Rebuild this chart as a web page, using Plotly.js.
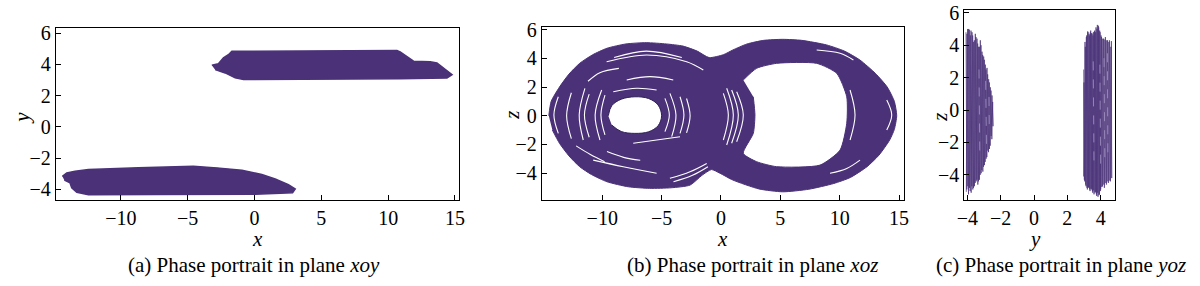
<!DOCTYPE html>
<html>
<head>
<meta charset="utf-8">
<script src="https://cdn.plot.ly/plotly-3.0.1.min.js"></script>
<style>html,body{margin:0;padding:0;background:#fff}#chart{width:1200px;height:286px}</style>
</head>
<body>
<div id="chart"></div>
<script>
// ---------- (a) plane xoy : outlines of the two dense bands ----------
const aUpperX = [-3.19,-2.7,-2.32,-1.95,-1.69,3.42,10.66,10.9,11.53,11.9,13.15,13.65,14.78,14.4,10.9,3.42,-0.82,-1.44,-2.19,-2.94];
const aUpperY = [3.95,4.05,4.42,4.63,4.85,4.85,4.89,4.81,4.42,4.21,4.17,4.1,3.35,3.14,3.08,3.03,3.03,3.14,3.46,3.67];
const aLowerX = [-14.37,-14.04,-13.42,-12.42,-8.68,-4.57,-2.81,-0.94,0.55,1.55,2.54,3.05,2.85,0.05,-7.43,-12.42,-13.29,-13.67,-13.8,-14.22];
const aLowerY = [-3.17,-2.95,-2.85,-2.74,-2.63,-2.52,-2.63,-2.78,-3.06,-3.34,-3.7,-3.98,-4.23,-4.32,-4.34,-4.36,-4.19,-3.91,-3.59,-3.42];

// ---------- (b) plane xoz : outer outline, holes, white gaps ----------
const bOuterX = [-14.5,-14.3,-13.6,-12.8,-11.9,-10.8,-9.6,-8.0,-6.3,-4.6,-3.2,-2.0,-1.0,0.2,1.0,2.2,3.6,5.2,6.8,8.9,10.4,11.7,13.0,14.0,14.6,14.8,14.6,14.2,13.3,12.3,10.9,9.5,7.4,5.2,3.2,1.0,-0.1,-0.8,-1.6,-2.6,-4.2,-6.0,-7.8,-9.6,-10.9,-11.9,-12.8,-13.6,-14.2];
const bOuterZ = [0.0,1.0,2.0,2.9,3.65,4.25,4.7,5.0,5.09,5.0,4.85,4.5,4.05,4.25,4.58,5.0,5.25,5.32,5.25,4.93,4.5,3.88,2.95,2.0,1.0,0.0,-0.95,-1.7,-2.75,-3.55,-4.3,-4.72,-5.12,-5.3,-5.1,-4.48,-4.0,-3.75,-4.15,-4.83,-5.02,-5.06,-4.95,-4.6,-4.1,-3.55,-2.8,-1.92,-1.0];
const bHoleLX = [-9.49,-9.2,-8.4,-7.25,-6.1,-5.3,-5.0,-5.3,-6.1,-7.25,-8.4,-9.2];
const bHoleLZ = [0.0,0.7,1.15,1.32,1.2,0.75,0.0,-0.7,-1.12,-1.23,-1.1,-0.65];
const bHoleRX = [1.88,3.0,4.69,8.06,9.75,10.59,10.59,10.03,8.34,4.69,3.0,1.88,2.72,2.86,2.72];
const bHoleRZ = [2.49,3.3,3.65,3.65,2.95,1.32,-0.53,-2.39,-3.44,-3.55,-3.2,-2.62,-1.23,0.05,1.32];
// white gaps between strands (null separates strands)
const bGapX = [-9.77,-10.11,-9.77,null,-10.05,-10.6,-10.19,null,-11.1,-11.5,-11.1,null,-11.46,-11.94,-11.6,null,-12.6,-13.0,-12.6,null,-13.7,-14.07,-13.7,null,
  -4.72,-4.35,-4.72,null,-4.3,-3.79,-4.15,null,-3.45,-3.12,-3.45,null,-2.9,-2.6,-2.9,null,
  -9.63,-6.26,-2.89,-1.49,null,-9.0,-6.3,-3.3,null,-7.94,-5.98,-4.02,null,-9.07,-7.1,-5.42,null,-11.2,-10.2,-8.6,null,
  -10.76,-8.23,-5.42,null,-4.3,-2.61,-1.2,null,-4.0,-2.4,-1.1,null,-7.39,-5.42,-3.45,null,-9.6,-8.2,-6.8,null,-12.2,-11.0,-9.8,null,
  0.48,1.04,0.48,null,0.9,1.46,0.9,null,1.32,1.88,1.32,null,0.2,0.62,0.2,null,
  10.87,11.29,10.87,null,13.96,14.38,13.96,null,8.06,10.03,11.15,null,9.18,10.59,11.71];
const bGapZ = [1.44,0.05,-1.34,null,1.79,0.05,-1.69,null,1.5,0.05,-1.5,null,1.91,0.05,-1.69,null,1.6,0.0,-1.6,null,1.32,0.05,-1.23,null,
  1.21,0.05,-1.11,null,1.56,0.05,-1.46,null,1.32,0.05,-1.23,null,1.2,0.0,-1.2,null,
  3.76,4.23,3.76,3.18,null,4.05,4.5,4.05,null,2.49,2.72,2.49,null,1.67,1.91,1.79,null,2.4,3.0,3.3,null,
  -3.09,-3.55,-4.01,null,-4.36,-3.9,-3.32,null,-4.6,-4.15,-3.55,null,-1.92,-1.69,-1.46,null,-2.5,-2.9,-3.1,null,-2.1,-2.7,-3.2,null,
  1.91,0.05,-2.04,null,1.79,0.05,-1.92,null,1.67,0.05,-1.81,null,1.56,0.05,-1.69,null,
  1.79,0.05,-1.69,null,1.09,0.05,-1.0,null,4.58,4.35,3.88,null,-4.01,-3.67,-3.09];

// ---------- (c) plane yoz : strands ----------
const cLeftY = [-4.08,-4.03,-3.98,-3.93,-3.88,-3.83,-3.78,-3.73,-3.68,-3.63,-3.58,-3.53,-3.48,-3.43,-3.38,-3.33,-3.28,-3.23,-3.18,-3.13,-3.08,-3.03,-2.98,-2.93,-2.88,-2.83,-2.78,-2.73,-2.68,-2.63,-2.58,-2.53,-2.48,
  -2.46,-2.52,-2.57,-2.62,-2.67,-2.72,-2.77,-2.82,-2.87,-2.92,-2.97,-3.02,-3.07,-3.12,-3.17,-3.22,-3.27,-3.32,-3.37,-3.42,-3.47,-3.52,-3.57,-3.62,-3.67,-3.72,-3.77,-3.82,-3.87,-3.92,-3.97,-4.02,-4.06];
const cLeftZ = [4.8,-4.9,5.0,-5.2,4.95,-5.0,4.9,-4.7,4.6,-4.8,4.3,-4.5,4.5,-4.3,4.1,-4.4,3.9,-4.0,4.0,-3.7,3.4,-3.5,3.1,-3.2,2.5,-2.9,2.2,-2.6,1.7,-2.2,1.2,-1.8,0.5,
  -1.0,0.9,-1.6,1.4,-2.4,1.9,-2.5,2.6,-3.0,2.8,-3.4,3.3,-3.8,3.6,-3.9,4.3,-4.3,3.9,-4.6,4.4,-4.4,4.7,-4.7,4.2,-4.9,4.8,-5.1,4.6,-4.8,5.0,-4.7,4.7,-5.05];
const cRightY = [2.97,3.0,3.04,3.08,3.12,3.16,3.2,3.24,3.28,3.32,3.36,3.4,3.44,3.48,3.52,3.56,3.6,3.64,3.68,3.72,3.76,3.8,3.84,3.88,3.92,3.96,4.0,4.05,4.1,4.16,4.22,4.28,4.34,4.4,4.46,4.52,4.58,4.64,
  4.66,4.61,4.55,4.49,4.43,4.37,4.31,4.25,4.19,4.13,4.07,4.02,3.98,3.94,3.9,3.86,3.82,3.78,3.74,3.7,3.66,3.62,3.58,3.54,3.5,3.46,3.42,3.38,3.34,3.3,3.26,3.22,3.18,3.14,3.1,3.06,3.02,2.98];
const cRightZ = [-4.1,1.7,-4.4,3.9,-4.7,4.6,-4.9,4.8,-4.8,4.6,-5.0,4.9,-4.9,4.7,-5.1,4.8,-5.2,4.9,-5.05,5.1,-5.3,5.25,-5.35,5.1,-5.2,4.8,-4.9,4.5,-4.7,4.4,-4.8,4.5,-4.6,4.3,-4.5,4.3,-4.4,4.25,
  -4.2,3.9,-4.35,4.2,-4.4,4.3,-4.5,4.35,-4.6,4.4,-4.75,4.6,-5.0,4.9,-5.25,5.2,-5.1,5.0,-5.2,4.8,-5.1,4.85,-4.95,4.6,-5.0,4.75,-4.85,4.8,-4.9,4.7,-4.75,4.85,-4.8,4.5,-4.6,4.2,-4.3,2.5];
// lighter streaks seen inside the yoz clusters
const cStreakY = [-3.3,-3.25,null,-2.9,-2.85,null,-2.7,-2.68,null,3.55,3.6,null,3.95,4.0,null,4.2,4.25,null,4.4,4.43];
const cStreakZ = [2.5,-2.8,null,1.8,-2.2,null,0.8,-1.4,null,3.0,-3.5,null,2.8,-3.8,null,3.2,-3.4,null,3.5,-3.0];

// ---------- text ----------
const captions = ['(a) Phase portrait in plane <i>xoy</i>','(b) Phase portrait in plane <i>xoz</i>','(c) Phase portrait in plane <i>yoz</i>'];
const ticksXab = [-10,-5,0,5,10,15];
const ticksZ = [-4,-2,0,2,4,6];
const ticksYc = [-4,-2,0,2,4];

const purple = '#4b3278';
const serif = 'Liberation Serif, Tinos, Times New Roman, Times, DejaVu Serif, serif';

const traces = [
  {x:aUpperX, y:aUpperY, xaxis:'x', yaxis:'y', mode:'lines', fill:'toself', fillcolor:purple, line:{color:purple,width:1.5}, hoverinfo:'skip'},
  {x:aLowerX, y:aLowerY, xaxis:'x', yaxis:'y', mode:'lines', fill:'toself', fillcolor:purple, line:{color:purple,width:1.5}, hoverinfo:'skip'},
  {x:bOuterX, y:bOuterZ, xaxis:'x2', yaxis:'y2', mode:'lines', fill:'toself', fillcolor:purple, line:{color:purple,width:1,shape:'spline',smoothing:0.6}, hoverinfo:'skip'},
  {x:bHoleLX, y:bHoleLZ, xaxis:'x2', yaxis:'y2', mode:'lines', fill:'toself', fillcolor:'#ffffff', line:{color:'#2e1f55',width:1,shape:'spline'}, hoverinfo:'skip'},
  {x:bHoleRX, y:bHoleRZ, xaxis:'x2', yaxis:'y2', mode:'lines', fill:'toself', fillcolor:'#ffffff', line:{color:purple,width:1,shape:'spline',smoothing:0.6}, hoverinfo:'skip'},
  {x:bGapX, y:bGapZ, xaxis:'x2', yaxis:'y2', mode:'lines', line:{color:'#ffffff',width:1.1,shape:'spline'}, connectgaps:false, hoverinfo:'skip'},
  {x:cLeftY, y:cLeftZ, xaxis:'x3', yaxis:'y3', mode:'lines', line:{color:purple,width:0.7}, hoverinfo:'skip'},
  {x:cRightY, y:cRightZ, xaxis:'x3', yaxis:'y3', mode:'lines', line:{color:purple,width:0.7}, hoverinfo:'skip'},
  {x:cStreakY, y:cStreakZ, xaxis:'x3', yaxis:'y3', mode:'lines', line:{color:'#a596c8',width:0.8,dash:'dash'}, connectgaps:false, hoverinfo:'skip'}
];

function ax(extra){
  return Object.assign({showline:true, linecolor:'#000', linewidth:1, mirror:true, ticks:'inside', ticklen:5, tickwidth:1, tickcolor:'#000',
    showgrid:false, zeroline:false, fixedrange:true, tickfont:{family:serif, size:20, color:'#000'}}, extra);
}

function lab(text, x, y, angle){
  return {text:text, xref:'paper', yref:'paper', x:x, y:y, xanchor:'center', yanchor:'middle', showarrow:false, textangle:angle||0,
    font:{family:serif, size:21, color:'#000'}};
}

const layout = {
  width:1200, height:286, margin:{l:0,r:0,t:0,b:0}, paper_bgcolor:'#fff', plot_bgcolor:'#fff', showlegend:false,
  font:{family:serif, color:'#000'},
  xaxis: ax({domain:[0.0464,0.3825], range:[-14.87,15.3], tickvals:ticksXab, anchor:'y'}),
  yaxis: ax({domain:[0.3007,0.901], range:[-4.69,6.32], tickvals:ticksZ, anchor:'x'}),
  xaxis2: ax({domain:[0.4514,0.7536], range:[-15.1,15.44], tickvals:ticksXab, anchor:'y2'}),
  yaxis2: ax({domain:[0.3007,0.9066], range:[-5.87,6.2], tickvals:ticksZ, anchor:'x2'}),
  xaxis3: ax({domain:[0.8036,0.9292], range:[-4.18,4.86], tickvals:ticksYc, anchor:'y3'}),
  yaxis3: ax({domain:[0.3007,0.965], range:[-5.55,6.17], tickvals:ticksZ, anchor:'x3'}),
  annotations:[
    lab('<i>x</i>', 0.2142, 0.164), lab('<i>y</i>', 0.0188, 0.587, -90),
    lab('<i>x</i>', 0.6017, 0.164), lab('<i>z</i>', 0.4264, 0.598, -90),
    lab('<i>y</i>', 0.8625, 0.164), lab('<i>z</i>', 0.7833, 0.592, -90),
    lab(captions[0], 0.2117, 0.0734), lab(captions[1], 0.6267, 0.0734), lab(captions[2], 0.8842, 0.0734)
  ]
};

Plotly.newPlot('chart', traces, layout, {staticPlot:true, displayModeBar:false});
</script>
</body>
</html>
